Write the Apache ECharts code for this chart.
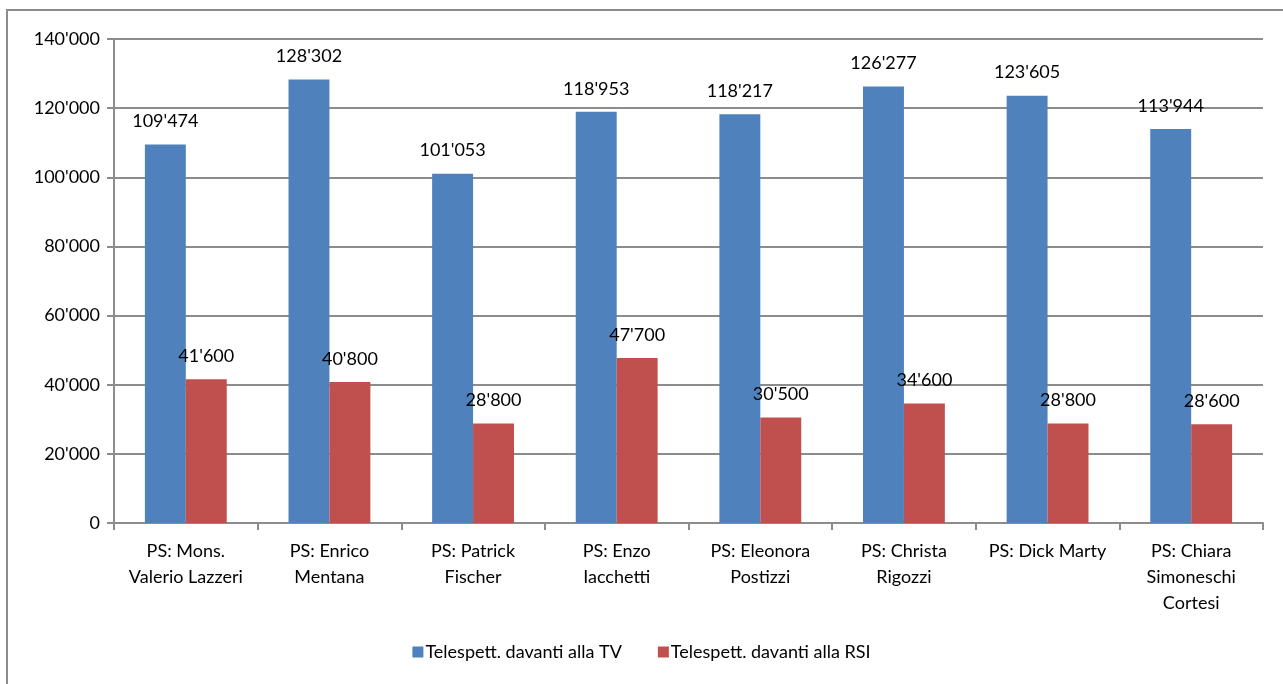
<!DOCTYPE html>
<html>
<head>
    <meta charset="utf-8">
    <title>Telespettatori</title>
    <script src="https://cdn.jsdelivr.net/npm/echarts@6/dist/echarts.min.js"></script>
    <style>
        html, body { margin: 0; padding: 0; background: #fff; }
    </style>
</head>
<body>
    <div id="main" style="width:1283px;height:684px;"></div>
    <script type="text/javascript">
        var categories = [
            'PS: Mons.\nValerio Lazzeri',
            'PS: Enrico\nMentana',
            'PS: Patrick\nFischer',
            'PS: Enzo\nIacchetti',
            'PS: Eleonora\nPostizzi',
            'PS: Christa\nRigozzi',
            'PS: Dick Marty',
            'PS: Chiara\nSimoneschi\nCortesi'
        ];
        var seriesNames = ['Telespett. davanti alla TV', 'Telespett. davanti alla RSI'];
        var tvValues = [109474, 128302, 101053, 118953, 118217, 126277, 123605, 113944];
        var rsiValues = [41600, 40800, 28800, 47700, 30500, 34600, 28800, 28600];

        var FONT = 'Lato, "Open Sans", sans-serif';

        function fmt(v) {
            // 12345 -> 12'345
            return String(v).replace(/\B(?=(\d{3})+(?!\d))/g, "'");
        }

        var chart = echarts.init(document.getElementById('main'));

        var labelStyle = {
            show: true,
            position: 'top',
            distance: 14,
            fontFamily: FONT,
            fontSize: 18,
            color: '#000',
            formatter: function (p) { return fmt(p.value); }
        };

        chart.setOption({
            animation: false,
            backgroundColor: '#fff',
            graphic: [{
                type: 'rect',
                shape: { x: 7, y: 10, width: 1400, height: 800 },
                style: { fill: 'none', stroke: '#8c8c8c', lineWidth: 2 },
                silent: true
            }],
            grid: { left: 114, right: 20, top: 39, bottom: 161 },
            legend: {
                bottom: 18,
                left: 'center',
                itemWidth: 11,
                itemHeight: 11,
                itemGap: 36,
                icon: 'rect',
                textStyle: { fontFamily: FONT, fontSize: 18, color: '#000', padding: [0, 0, 0, -3] },
                data: seriesNames
            },
            xAxis: {
                type: 'category',
                data: categories,
                axisLine: { lineStyle: { color: '#8c8c8c', width: 2 } },
                axisTick: { show: true, length: 7, lineStyle: { color: '#8c8c8c', width: 2 } },
                axisLabel: {
                    fontFamily: FONT,
                    fontSize: 18,
                    color: '#000',
                    lineHeight: 26,
                    margin: 15,
                    interval: 0
                }
            },
            yAxis: {
                type: 'value',
                min: 0,
                max: 140000,
                interval: 20000,
                axisLine: { show: true, lineStyle: { color: '#8c8c8c', width: 2 } },
                axisTick: { show: true, length: 7, lineStyle: { color: '#8c8c8c', width: 2 } },
                splitLine: { lineStyle: { color: '#8c8c8c', width: 2 } },
                axisLabel: {
                    fontFamily: FONT,
                    fontSize: 18,
                    color: '#000',
                    margin: 14,
                    formatter: fmt
                }
            },
            series: [{
                name: seriesNames[0],
                type: 'bar',
                data: tvValues,
                barGap: '0%',
                barCategoryGap: '43%',
                itemStyle: { color: '#4f81bd' },
                label: labelStyle
            }, {
                name: seriesNames[1],
                type: 'bar',
                data: rsiValues,
                itemStyle: { color: '#c0504d' },
                label: labelStyle
            }]
        });
    </script>
</body>
</html>
